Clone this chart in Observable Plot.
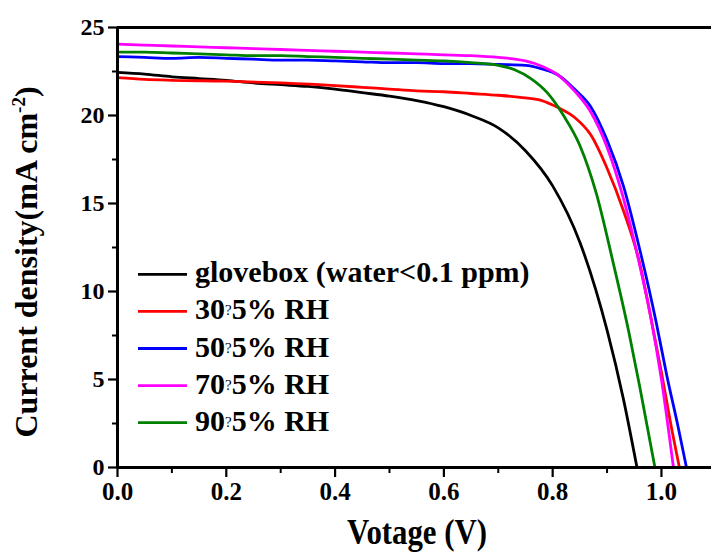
<!DOCTYPE html>
<html>
<head>
<meta charset="utf-8">
<script src="https://cdn.jsdelivr.net/npm/d3@7"></script>
<script src="https://cdn.jsdelivr.net/npm/@observablehq/plot@0.6"></script>
<style>
  html, body { margin: 0; padding: 0; background: #fff; overflow: hidden; }
  #chart svg, #chart svg text, #chart svg tspan { font-family: "Liberation Serif", "Times New Roman", serif !important; }
  #chart svg text { font-weight: bold; fill: #000; }
</style>
</head>
<body>
<div id="chart"></div>
<script>
// ---- Data ----
const seriesNames = ["glovebox (water<0.1 ppm)", "30?5% RH", "50?5% RH", "70?5% RH", "90?5% RH"];
const seriesColors = ["#000000", "#ff0000", "#0000ff", "#ff00ff", "#008000"];

const vGlove = [0, 0.05, 0.1, 0.15, 0.2, 0.25, 0.3, 0.35, 0.4, 0.45, 0.5, 0.55, 0.6, 0.65, 0.7, 0.75, 0.8, 0.85, 0.9, 0.93, 0.955];
const jGlove = [22.45, 22.35, 22.2, 22.1, 22.0, 21.85, 21.75, 21.65, 21.5, 21.3, 21.1, 20.85, 20.5, 20.0, 19.3, 18.0, 16.0, 12.8, 7.8, 3.9, 0];

const v30 = [0, 0.05, 0.1, 0.2, 0.3, 0.4, 0.45, 0.5, 0.55, 0.6, 0.65, 0.7, 0.75, 0.78, 0.81, 0.84, 0.87, 0.9, 0.93, 0.96, 0.98, 1.0, 1.02, 1.033];
const j30 = [22.15, 22.05, 22.0, 21.95, 21.85, 21.7, 21.6, 21.5, 21.4, 21.35, 21.25, 21.15, 21.0, 20.85, 20.45, 19.9, 18.9, 17.0, 14.6, 11.6, 8.6, 5.4, 2.0, 0];

const v50 = [0, 0.05, 0.1, 0.15, 0.2, 0.25, 0.3, 0.35, 0.4, 0.45, 0.5, 0.55, 0.6, 0.65, 0.7, 0.75, 0.78, 0.81, 0.84, 0.87, 0.9, 0.93, 0.96, 0.99, 1.01, 1.03, 1.046];
const j50 = [23.35, 23.3, 23.25, 23.3, 23.25, 23.2, 23.15, 23.15, 23.1, 23.05, 23.0, 23.0, 22.95, 22.95, 22.9, 22.85, 22.65, 22.3, 21.5, 20.5, 18.6, 16.0, 12.4, 8.3, 5.2, 2.4, 0];

const v70 = [0, 0.05, 0.1, 0.15, 0.2, 0.25, 0.3, 0.35, 0.4, 0.45, 0.5, 0.55, 0.6, 0.65, 0.7, 0.75, 0.78, 0.81, 0.84, 0.87, 0.9, 0.93, 0.96, 0.98, 1.0, 1.022];
const j70 = [24.05, 24.0, 23.95, 23.9, 23.85, 23.8, 23.75, 23.7, 23.65, 23.6, 23.55, 23.5, 23.45, 23.4, 23.3, 23.1, 22.8, 22.3, 21.4, 20.2, 18.2, 15.3, 11.5, 8.6, 5.0, 0];

const v90 = [0, 0.05, 0.1, 0.15, 0.2, 0.25, 0.3, 0.35, 0.4, 0.45, 0.5, 0.55, 0.6, 0.65, 0.7, 0.73, 0.76, 0.79, 0.82, 0.85, 0.88, 0.91, 0.94, 0.96, 0.988];
const j90 = [23.6, 23.6, 23.55, 23.5, 23.45, 23.4, 23.4, 23.35, 23.3, 23.25, 23.2, 23.15, 23.1, 23.0, 22.85, 22.6, 22.1, 21.3, 20.0, 18.3, 15.6, 11.8, 7.7, 4.6, 0];

const xMajorTicks = [0, 0.2, 0.4, 0.6, 0.8, 1.0];
const xMinorTicks = [0.1, 0.3, 0.5, 0.7, 0.9];
const yMajorTicks = [0, 5, 10, 15, 20, 25];
const yMinorTicks = [2.5, 7.5, 12.5, 17.5, 22.5];
const xDomain = [0, 1.092];
const yDomain = [0, 25];

const xTitle = "Votage (V)";
const yTitleMain = "Current density(mA cm";
const yTitleSup = "-2";
const yTitleEnd = ")";

// ---- Build table ----
const vArrays = [vGlove, v30, v50, v70, v90];
const jArrays = [jGlove, j30, j50, j70, j90];
const rows = [];
vArrays.forEach((vs, i) => vs.forEach((v, k) => rows.push({series: seriesNames[i], v, j: jArrays[i][k]})));

const font = "Liberation Serif, Times New Roman, serif";

const plot = Plot.plot({
  width: 711,
  height: 552,
  marginTop: 27,
  marginBottom: 85,
  marginLeft: 117,
  marginRight: 0,
  style: {fontFamily: font, fontWeight: "bold", color: "#000", background: "#fff", overflow: "hidden"},
  x: {domain: xDomain},
  y: {domain: yDomain},
  color: {domain: seriesNames, range: seriesColors},
  marks: [
    Plot.axisX({ticks: xMinorTicks, tickSize: 6, strokeWidth: 2, text: null, label: null}),
    Plot.axisX({ticks: xMajorTicks, tickSize: 10, strokeWidth: 2.2, tickPadding: 5, tickFormat: d3.format(".1f"), fontSize: 25, fontWeight: "bold", label: null}),
    Plot.axisY({ticks: yMinorTicks, tickSize: 5, strokeWidth: 2, text: null, label: null}),
    Plot.axisY({ticks: yMajorTicks, tickSize: 9, strokeWidth: 2.2, tickPadding: 4, fontSize: 24, fontWeight: "bold", label: null}),
    Plot.line(rows, {x: "v", y: "j", z: "series", stroke: "series", strokeWidth: 2.8, curve: "monotone-x"}),
    Plot.ruleY([yDomain[0]], {stroke: "#000", strokeWidth: 3}),
    Plot.ruleY([yDomain[1]], {stroke: "#000", strokeWidth: 3}),
    Plot.ruleX([xDomain[0]], {stroke: "#000", strokeWidth: 3})
  ]
});

document.getElementById("chart").appendChild(plot);

// ---- Titles and legend ----
const svg = d3.select(plot);

// x title
svg.append("text")
  .attr("x", 417).attr("y", 544)
  .attr("text-anchor", "middle")
  .attr("font-size", 36)
  .attr("textLength", 140).attr("lengthAdjust", "spacingAndGlyphs")
  .text(xTitle);

// y title
const yt = svg.append("text")
  .attr("transform", "translate(37,262) rotate(-90)")
  .attr("text-anchor", "middle")
  .attr("font-size", 32);
yt.append("tspan").text(yTitleMain);
yt.append("tspan").attr("font-size", 19).attr("dy", -12).text(yTitleSup);
yt.append("tspan").attr("dy", 12).text(yTitleEnd);

// legend
const legendX0 = 138, legendX1 = 187, legendTextX = 195;
const legendY0 = 274.3, legendStep = 37.1;
seriesNames.forEach((name, i) => {
  const y = legendY0 + i * legendStep;
  svg.append("line")
    .attr("x1", legendX0).attr("x2", legendX1).attr("y1", y).attr("y2", y)
    .attr("stroke", seriesColors[i]).attr("stroke-width", 2.8);
  const t = svg.append("text")
    .attr("x", legendTextX).attr("y", y + 8)
    .attr("text-anchor", "start")
    .attr("font-size", 30);
  const parts = name.split("?");
  if (parts.length > 1) {
    t.append("tspan").text(parts[0]);
    t.append("tspan").attr("font-size", 15).style("font-weight", "normal").attr("dy", -4).text("?");
    t.append("tspan").attr("dy", 4).text(parts[1]);
  } else {
    t.text(name);
  }
});
</script>
</body>
</html>
